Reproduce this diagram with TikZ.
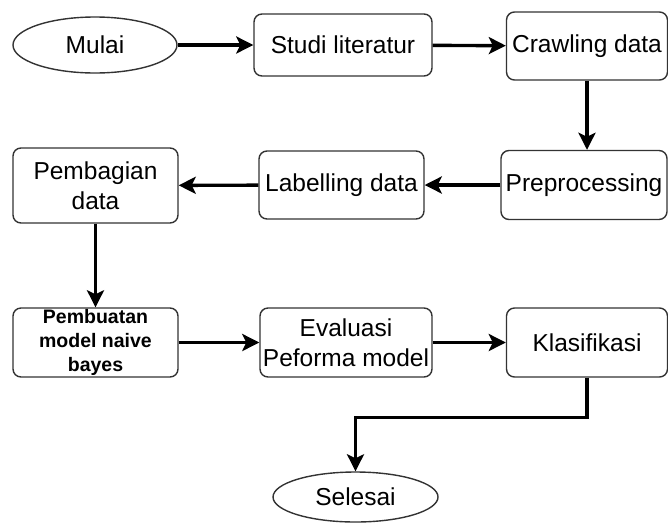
\documentclass[tikz,border=0pt]{standalone}
\usepackage{fontspec}
\setmainfont{Liberation Sans}
\usetikzlibrary{shapes.geometric,arrows.meta}

\tikzset{
  kotak/.style={draw=black!80, line width=1.4pt, rounded corners=8pt, align=center,
    inner sep=0pt, font=\fontsize{24.5}{30}\selectfont},
  oval/.style={ellipse, draw=black!80, line width=1.4pt, inner sep=0pt,
    font=\fontsize{24.5}{30}\selectfont},
  panah/.style={line width=3.4pt, -{Stealth[length=17pt,width=17pt,inset=4pt]}},
}

\begin{document}
\begin{tikzpicture}[x=1pt,y=-1pt]
  \useasboundingbox (0,0) rectangle (668,523);
  % baris 1
  \node[oval, minimum width=164pt, minimum height=56pt] (mulai) at (95,45) {Mulai};
  \node[kotak, minimum width=178pt, minimum height=62pt] (studi) at (343,45) {Studi literatur};
  \node[kotak, minimum width=161pt, minimum height=68pt] (crawling) at (587,46) {Crawling data};
  % baris 2
  \node[kotak, minimum width=166pt, minimum height=69pt] (prepro) at (584,185) {Preprocessing};
  \node[kotak, minimum width=165pt, minimum height=68pt] (label) at (341.5,185) {Labelling data};
  \node[kotak, minimum width=165pt, minimum height=75pt] (bagi) at (95.5,185.5) {Pembagian\\data};
  % baris 3
  \node[kotak, minimum width=165pt, minimum height=69pt,
    font=\fontsize{19.5}{24}\selectfont\bfseries] (buat) at (95.5,342.5) {Pembuatan\\model naive\\bayes};
  \node[kotak, minimum width=172pt, minimum height=69pt] (eval) at (346,342.5) {Evaluasi\\Peforma model};
  \node[kotak, minimum width=161pt, minimum height=69pt] (klas) at (587,342.5) {Klasifikasi};
  % akhir
  \node[oval, minimum width=165pt, minimum height=50pt] (selesai) at (355.5,497) {Selesai};

  \draw[panah] (mulai) -- (studi);
  \draw[panah] (studi) -- (crawling);
  \draw[panah] (crawling.south) -- (crawling.south |- prepro.north);
  \draw[panah] (prepro) -- (label);
  \draw[panah] (label) -- (bagi);
  \draw[panah] (bagi) -- (buat);
  \draw[panah] (buat) -- (eval);
  \draw[panah] (eval) -- (klas);
  \draw[panah] (klas.south) -- ++(0,40) -| (selesai.north); % belok ke Selesai
\end{tikzpicture}
\end{document}
